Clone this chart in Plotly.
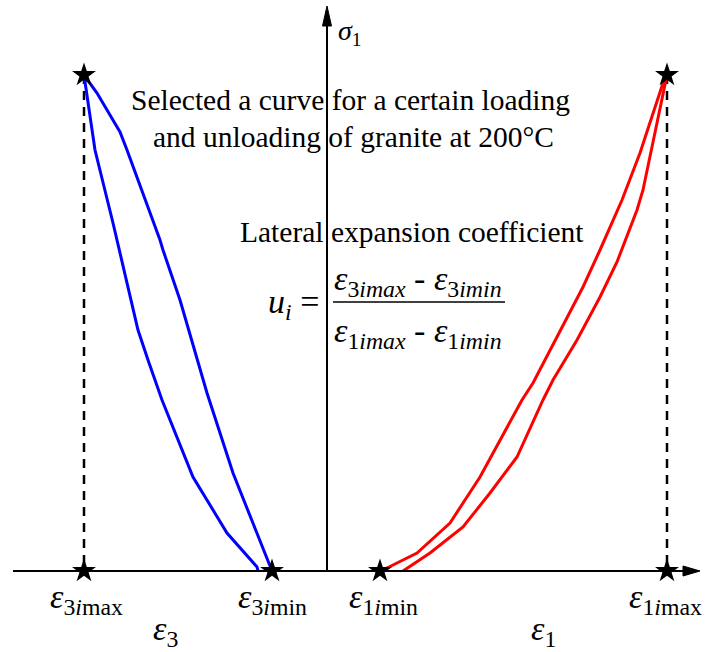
import plotly.graph_objects as go

# Data (x: strain-like horizontal units, y: stress-like vertical units; origin at axes crossing)
blue_load_x = [-55, -94, -120, -147, -164, -167, -200, -207, -230, -243]
blue_load_y = [0, 98, 178, 271, 321, 331, 421, 439, 478, 496]
blue_unload_x = [-243, -232, -214, -200, -189, -179, -165, -134, -100, -70, -69]
blue_unload_y = [496, 421, 348, 288, 241, 211, 171, 94, 38, 4, 0]

red_load_x = [53, 60, 90, 113, 123, 153, 195, 206, 230, 256, 273, 295, 313, 336, 340]
red_load_y = [0, 3, 18, 39, 48, 94, 171, 188, 234, 284, 321, 371, 418, 488, 496]
red_unload_x = [340, 316, 310, 290, 273, 250, 226, 216, 190, 163, 136, 103, 76]
red_unload_y = [496, 381, 361, 309, 274, 231, 191, 171, 114, 78, 44, 18, 0]

star_x = [-243, -55, 53, 340, -243, 340]
star_y = [0, 0, 0, 0, 496, 496]

X_MIN, X_MAX = -327, 380
Y_MIN, Y_MAX = -81, 571

FONT = "Liberation Serif"

fig = go.Figure()

# dashed guide lines from peak stars down to the axis
for sx in (star_x[4], star_x[5]):
    fig.add_trace(go.Scatter(x=[sx, sx], y=[star_y[4], 0], mode="lines",
                             line=dict(color="black", width=2.5, dash="9px,7px"),
                             hoverinfo="skip", showlegend=False))

fig.add_trace(go.Scatter(x=blue_load_x, y=blue_load_y, mode="lines",
                         line=dict(color="#0000ff", width=3), showlegend=False))
fig.add_trace(go.Scatter(x=blue_unload_x, y=blue_unload_y, mode="lines",
                         line=dict(color="#0000ff", width=3), showlegend=False))
fig.add_trace(go.Scatter(x=red_load_x, y=red_load_y, mode="lines",
                         line=dict(color="#ff0000", width=3), showlegend=False))
fig.add_trace(go.Scatter(x=red_unload_x, y=red_unload_y, mode="lines",
                         line=dict(color="#ff0000", width=3), showlegend=False))

shapes = [
    # horizontal axis
    dict(type="line", x0=-314, y0=0, x1=360, y1=0, line=dict(color="black", width=2)),
    dict(type="path", path="M 356 -5 L 373 0 L 356 5 Z", fillcolor="black", line=dict(color="black", width=1)),
    # vertical axis
    dict(type="line", x0=0, y0=0, x1=0, y1=548, line=dict(color="black", width=2)),
    dict(type="path", path="M -4.5 545 L 0 565 L 4.5 545 Z", fillcolor="black", line=dict(color="black", width=1)),
    # fraction bar
    dict(type="line", x0=6, y0=269, x1=178, y1=269, line=dict(color="black", width=1.5)),
]

fig.add_trace(go.Scatter(x=star_x, y=star_y, mode="markers",
                         marker=dict(symbol="star", size=18, color="black"),
                         showlegend=False))

def ann(x, y, text, size, xanchor="center"):
    return dict(x=x, y=y, xref="x", yref="y", text=text, showarrow=False,
                font=dict(family=FONT, size=size, color="black"),
                xanchor=xanchor, yanchor="middle")

annotations = [
    ann(9, 539, "<i>σ</i><sub>1</sub>", 28, "left"),
    ann(23, 471, "Selected a curve for a certain loading", 29.5),
    ann(26, 434, "and unloading of granite at 200°C", 29.5),
    ann(85, 339, "Lateral expansion coefficient", 29.5),
    ann(-34, 267, "<i>u<sub>i</sub></i> =", 34),
    ann(91, 290, "<i>ε</i><sub>3<i>imax</i></sub> - <i>ε</i><sub>3<i>imin</i></sub>", 34),
    ann(91, 238, "<i>ε</i><sub>1<i>imax</i></sub> - <i>ε</i><sub>1<i>imin</i></sub>", 34),
    ann(-241, -28, "<i>ε</i><sub>3<i>i</i>max</sub>", 34),
    ann(-55, -28, "<i>ε</i><sub>3<i>i</i>min</sub>", 34),
    ann(56, -28, "<i>ε</i><sub>1<i>i</i>min</sub>", 34),
    ann(338, -28, "<i>ε</i><sub>1<i>i</i>max</sub>", 34),
    ann(-162, -60, "<i>ε</i><sub>3</sub>", 34),
    ann(216, -60, "<i>ε</i><sub>1</sub>", 34),
]

fig.update_layout(
    width=707, height=652,
    margin=dict(l=0, r=0, t=0, b=0),
    paper_bgcolor="white", plot_bgcolor="white",
    xaxis=dict(range=[X_MIN, X_MAX], visible=False, fixedrange=True),
    yaxis=dict(range=[Y_MIN, Y_MAX], visible=False, fixedrange=True),
    shapes=shapes, annotations=annotations, showlegend=False,
)

fig.write_html("out.html", config={"displayModeBar": False},
               post_script="document.body.style.margin='0px';")
